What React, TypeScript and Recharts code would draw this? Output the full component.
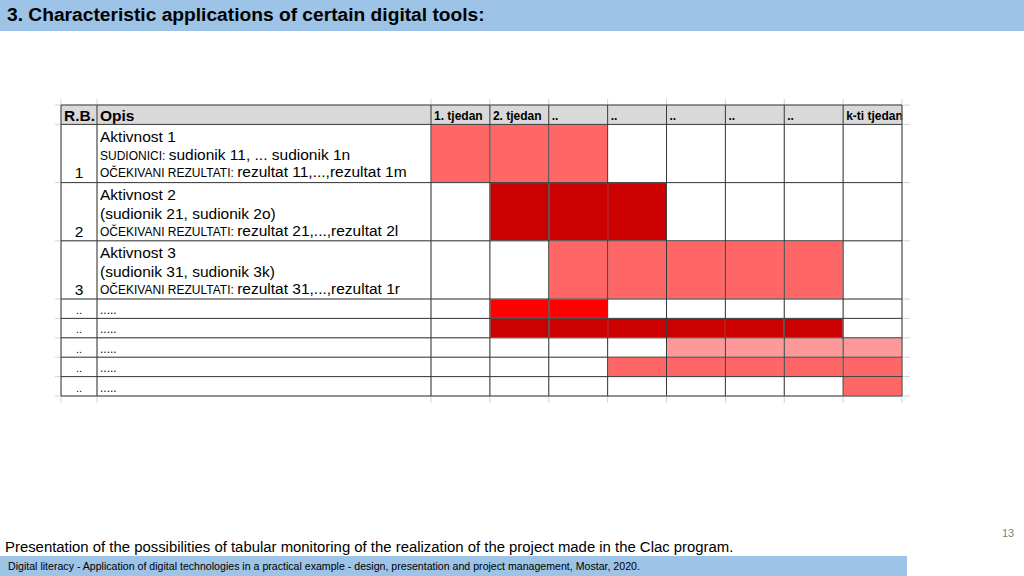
import { ComposedChart, XAxis, YAxis, ReferenceArea, ReferenceLine } from "recharts"

// ---- data ----
const weekLabels = ["1. tjedan", "2. tjedan", "..", "..", "..", "..", "..", "k-ti tjedan"]
const rowNumbers = ["1", "2", "3", "..", "..", "..", "..", ".."]
const rowUnits = [3, 3, 3, 1, 1, 1, 1, 1]

// each line: [small caps-ish prefix, main text]
const rowDescriptions: [string, string][][] = [
  [["", "Aktivnost 1"], ["SUDIONICI: ", "sudionik 11, ... sudionik 1n"], ["OČEKIVANI REZULTATI: ", "rezultat 11,...,rezultat 1m"]],
  [["", "Aktivnost 2"], ["", "(sudionik 21, sudionik 2o)"], ["OČEKIVANI REZULTATI: ", "rezultat 21,...,rezultat 2l"]],
  [["", "Aktivnost 3"], ["", "(sudionik 31, sudionik 3k)"], ["OČEKIVANI REZULTATI: ", "rezultat 31,...,rezultat 1r"]],
  [[".....", ""]],
  [[".....", ""]],
  [[".....", ""]],
  [[".....", ""]],
  [[".....", ""]],
]

const taskStart = [1, 2, 3, 2, 2, 5, 4, 8]
const taskEnd = [3, 4, 7, 3, 7, 8, 8, 8]
const taskShade = ["light", "dark", "light", "bright", "dark", "pale", "light", "light"]

// ---- styling ----
const shadeColors: Record<string, string> = {
  light: "#ff6666",
  dark: "#cc0000",
  bright: "#ff0000",
  pale: "#ff9999",
}
const FONT = "'Liberation Sans', Arial, sans-serif"
const BLUE = "#9dc3e6"
const WEEK_PX = 58.875
const UNIT_PX = 19.4
const RB_W = 36 / WEEK_PX
const OPIS_W = 334 / WEEK_PX
const X0 = -(RB_W + OPIS_W)
const weeks = weekLabels.map((_, i) => i)

const rowTops: number[] = []
rowUnits.reduce((acc, u) => {
  rowTops.push(acc)
  return acc + u
}, 1)
const tableBottom = 1 + rowUnits.reduce((a, b) => a + b, 0)
const hBounds = [0, ...rowTops, tableBottom]
const vBounds = [X0, X0 + RB_W, ...weeks, weekLabels.length]

function CellText(props: any) {
  const { viewBox, lines, anchor, bold, size, small, baselines } = props
  if (!viewBox) return null
  const { x, y, width } = viewBox
  const tx = anchor === "middle" ? x + width / 2 : x + 3
  return (
    <g>
      {lines.map((seg: [string, string], i: number) => (
        <text
          key={i}
          x={tx}
          y={y + baselines[i]}
          textAnchor={anchor}
          fontFamily={FONT}
          fontWeight={bold ? 700 : 400}
          fontSize={size}
          fill="#000"
        >
          {seg[0] && <tspan fontSize={small}>{seg[0]}</tspan>}
          {seg[1] && <tspan fontSize={size}>{seg[1]}</tspan>}
        </text>
      ))}
    </g>
  )
}

function Schedule() {
  return (
    <ComposedChart width={870} height={315} margin={{ top: 0, right: 0, bottom: 0, left: 0 }}>
      <XAxis type="number" dataKey="x" hide allowDataOverflow domain={[X0 - 11 / WEEK_PX, 8 + 18 / WEEK_PX]} />
      <YAxis type="number" dataKey="y" hide allowDataOverflow reversed domain={[-10 / UNIT_PX, tableBottom + 14 / UNIT_PX]} />

      {/* header background */}
      <ReferenceArea x1={X0} x2={weekLabels.length} y1={0} y2={1} fill="#d9d9d9" fillOpacity={1} stroke="none" ifOverflow="visible" />

      {/* task cells */}
      {taskStart.map((s, i) => (
        <ReferenceArea
          key={`t${i}`}
          x1={s - 1}
          x2={taskEnd[i]}
          y1={rowTops[i]}
          y2={rowTops[i] + rowUnits[i]}
          fill={shadeColors[taskShade[i]]}
          fillOpacity={1}
          stroke="none"
          ifOverflow="visible"
        />
      ))}

      {/* faint spreadsheet grid */}
      {vBounds.map((v, i) => (
        <ReferenceLine key={`lv${i}`} segment={[{ x: v, y: -6 / UNIT_PX }, { x: v, y: tableBottom + 7 / UNIT_PX }]} stroke="#d4d4d4" ifOverflow="visible" />
      ))}
      {hBounds.map((h, i) => (
        <ReferenceLine key={`lh${i}`} segment={[{ x: X0 - 6 / WEEK_PX, y: h }, { x: 8 + 8 / WEEK_PX, y: h }]} stroke="#d4d4d4" ifOverflow="visible" />
      ))}

      {/* table borders */}
      {vBounds.map((v, i) => (
        <ReferenceLine key={`v${i}`} segment={[{ x: v, y: 0 }, { x: v, y: tableBottom }]} stroke="#3a3a3a" ifOverflow="visible" />
      ))}
      {hBounds.map((h, i) => (
        <ReferenceLine key={`h${i}`} segment={[{ x: X0, y: h }, { x: weekLabels.length, y: h }]} stroke="#3a3a3a" ifOverflow="visible" />
      ))}

      {/* header texts */}
      <ReferenceArea x1={X0} x2={X0 + RB_W} y1={0} y2={1} fill="none" stroke="none" ifOverflow="visible"
        label={<CellText lines={[["", "R.B."]]} anchor="start" bold size={15.5} baselines={[15.5]} />} />
      <ReferenceArea x1={X0 + RB_W} x2={0} y1={0} y2={1} fill="none" stroke="none" ifOverflow="visible"
        label={<CellText lines={[["", "Opis"]]} anchor="start" bold size={15.5} baselines={[15.5]} />} />
      {weekLabels.map((w, i) => (
        <ReferenceArea key={`w${i}`} x1={i} x2={i + 1} y1={0} y2={1} fill="none" stroke="none" ifOverflow="visible"
          label={<CellText lines={[["", w]]} anchor="start" bold size={12} baselines={[15]} />} />
      ))}

      {/* row numbers and descriptions */}
      {rowNumbers.map((n, i) => (
        <ReferenceArea key={`n${i}`} x1={X0} x2={X0 + RB_W} y1={rowTops[i]} y2={rowTops[i] + rowUnits[i]} fill="none" stroke="none" ifOverflow="visible"
          label={<CellText lines={[["", n]]} anchor="middle" size={rowUnits[i] > 1 ? 15.5 : 11} baselines={[rowUnits[i] > 1 ? 54 : 15]} />} />
      ))}
      {rowDescriptions.map((lines, i) => (
        <ReferenceArea key={`d${i}`} x1={X0 + RB_W} x2={0} y1={rowTops[i]} y2={rowTops[i] + rowUnits[i]} fill="none" stroke="none" ifOverflow="visible"
          label={<CellText lines={lines} anchor="start" size={15.5} small={12} baselines={rowUnits[i] > 1 ? [17.5, 36, 53] : [15]} />} />
      ))}
    </ComposedChart>
  )
}

export default function App() {
  return (
    <div style={{ position: "absolute", left: 0, top: 0, width: 1024, height: 576, background: "#fff", overflow: "hidden", fontFamily: FONT }}>
      <div style={{ position: "absolute", left: 0, top: 0, width: 1024, height: 31, background: BLUE }}>
        <div style={{ position: "absolute", left: 7, top: 4, fontSize: 19.2, fontWeight: 700, color: "#000", whiteSpace: "nowrap" }}>
          3. Characteristic applications of certain digital tools:
        </div>
      </div>

      <div style={{ position: "absolute", left: 50, top: 95 }}>
        <Schedule />
      </div>

      <div style={{ position: "absolute", left: 5, top: 539, fontSize: 14.9, color: "#000", whiteSpace: "nowrap" }}>
        Presentation of the possibilities of tabular monitoring of the realization of the project made in the Clac program.
      </div>
      <div style={{ position: "absolute", left: 1002, top: 527, fontSize: 11, color: "#7f7f7f" }}>13</div>
      <div style={{ position: "absolute", left: 0, top: 556, width: 907, height: 20, background: BLUE }}>
        <div style={{ position: "absolute", left: 8, top: 4, fontSize: 10.6, color: "#000", whiteSpace: "nowrap" }}>
          Digital literacy - Application of digital technologies in a practical example - design, presentation and project management, Mostar, 2020.
        </div>
      </div>
    </div>
  )
}
